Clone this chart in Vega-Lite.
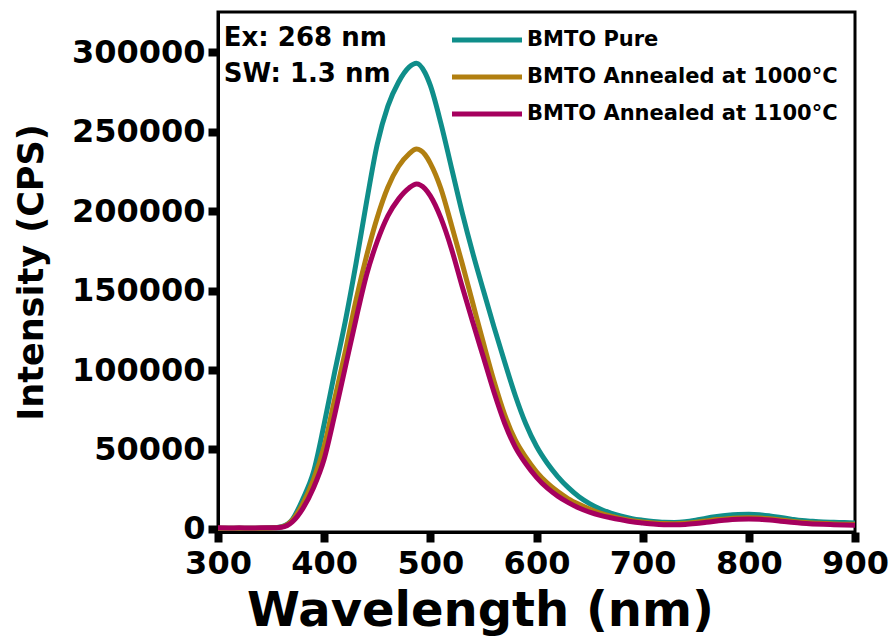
{
  "$schema": "https://vega.github.io/schema/vega-lite/v6.json",
  "width": 637,
  "height": 520,
  "autosize": {"type": "none"},
  "padding": {"left": 218, "top": 12, "right": 39, "bottom": 109},
  "background": "white",
  "config": {
    "font": "DejaVu Sans",
    "view": {"stroke": "black", "strokeWidth": 3},
    "axis": {
      "grid": false,
      "ticks": true,
      "labelColor": "black",
      "titleColor": "black",
      "labelFont": "DejaVu Sans",
      "titleFont": "DejaVu Sans",
      "labelFontWeight": "bold",
      "titleFontWeight": "bold",
      "tickColor": "black",
      "tickOpacity": 1,
      "domainColor": "black",
      "domainWidth": 3,
      "tickWidth": 8,
      "tickSize": 10,
      "labelFlush": false
    }
  },
  "data": {
    "values": [
      {"wl": 300, "pure": 400, "a1000": 500, "a1100": 700},
      {"wl": 310, "pure": 500, "a1000": 400, "a1100": 600},
      {"wl": 320, "pure": 400, "a1000": 500, "a1100": 700},
      {"wl": 330, "pure": 500, "a1000": 500, "a1100": 600},
      {"wl": 340, "pure": 500, "a1000": 500, "a1100": 700},
      {"wl": 350, "pure": 700, "a1000": 600, "a1100": 700},
      {"wl": 360, "pure": 1500, "a1000": 1300, "a1100": 1100},
      {"wl": 370, "pure": 6000, "a1000": 5500, "a1100": 4500},
      {"wl": 380, "pure": 19000, "a1000": 16000, "a1100": 13000},
      {"wl": 390, "pure": 36000, "a1000": 31000, "a1100": 26000},
      {"wl": 400, "pure": 66000, "a1000": 52000, "a1100": 44000},
      {"wl": 410, "pure": 99000, "a1000": 82000, "a1100": 72000},
      {"wl": 420, "pure": 131000, "a1000": 112000, "a1100": 102000},
      {"wl": 430, "pure": 167000, "a1000": 144000, "a1100": 132000},
      {"wl": 440, "pure": 206000, "a1000": 172000, "a1100": 160000},
      {"wl": 450, "pure": 242000, "a1000": 196000, "a1100": 181000},
      {"wl": 460, "pure": 266000, "a1000": 215000, "a1100": 197000},
      {"wl": 470, "pure": 281000, "a1000": 228000, "a1100": 207500},
      {"wl": 480, "pure": 290500, "a1000": 236000, "a1100": 214500},
      {"wl": 487, "pure": 293000, "a1000": 239000, "a1100": 217000},
      {"wl": 495, "pure": 287000, "a1000": 235500, "a1100": 214000},
      {"wl": 500, "pure": 279000, "a1000": 230000, "a1100": 209500},
      {"wl": 510, "pure": 255000, "a1000": 214000, "a1100": 195500},
      {"wl": 520, "pure": 227000, "a1000": 191000, "a1100": 176000},
      {"wl": 530, "pure": 199000, "a1000": 167000, "a1100": 152500},
      {"wl": 540, "pure": 173500, "a1000": 142000, "a1100": 130000},
      {"wl": 550, "pure": 150000, "a1000": 117000, "a1100": 108000},
      {"wl": 560, "pure": 127000, "a1000": 93000, "a1100": 86000},
      {"wl": 570, "pure": 105000, "a1000": 72000, "a1100": 66500},
      {"wl": 580, "pure": 84000, "a1000": 56000, "a1100": 51500},
      {"wl": 590, "pure": 66000, "a1000": 45000, "a1100": 41000},
      {"wl": 600, "pure": 52000, "a1000": 36000, "a1100": 32500},
      {"wl": 610, "pure": 41500, "a1000": 29000, "a1100": 25800},
      {"wl": 620, "pure": 33000, "a1000": 23500, "a1100": 20700},
      {"wl": 630, "pure": 26000, "a1000": 19000, "a1100": 16600},
      {"wl": 640, "pure": 20300, "a1000": 15500, "a1100": 13200},
      {"wl": 650, "pure": 16000, "a1000": 12500, "a1100": 10600},
      {"wl": 660, "pure": 12600, "a1000": 10000, "a1100": 8600},
      {"wl": 670, "pure": 10000, "a1000": 8000, "a1100": 7100},
      {"wl": 680, "pure": 8000, "a1000": 6400, "a1100": 5800},
      {"wl": 690, "pure": 6500, "a1000": 5200, "a1100": 4600},
      {"wl": 700, "pure": 5500, "a1000": 4400, "a1100": 3800},
      {"wl": 710, "pure": 4700, "a1000": 3800, "a1100": 3100},
      {"wl": 720, "pure": 4200, "a1000": 3400, "a1100": 2700},
      {"wl": 730, "pure": 4100, "a1000": 3300, "a1100": 2600},
      {"wl": 740, "pure": 4500, "a1000": 3600, "a1100": 2800},
      {"wl": 750, "pure": 5500, "a1000": 4300, "a1100": 3400},
      {"wl": 760, "pure": 6800, "a1000": 5100, "a1100": 4200},
      {"wl": 770, "pure": 7800, "a1000": 5900, "a1100": 5000},
      {"wl": 780, "pure": 8600, "a1000": 6500, "a1100": 5700},
      {"wl": 790, "pure": 9100, "a1000": 6900, "a1100": 6100},
      {"wl": 800, "pure": 9300, "a1000": 7100, "a1100": 6300},
      {"wl": 810, "pure": 9000, "a1000": 6900, "a1100": 6100},
      {"wl": 820, "pure": 8200, "a1000": 6400, "a1100": 5600},
      {"wl": 830, "pure": 7200, "a1000": 5700, "a1100": 4900},
      {"wl": 840, "pure": 6200, "a1000": 4900, "a1100": 4200},
      {"wl": 850, "pure": 5300, "a1000": 4300, "a1100": 3600},
      {"wl": 860, "pure": 4800, "a1000": 3800, "a1100": 3200},
      {"wl": 870, "pure": 4400, "a1000": 3500, "a1100": 2900},
      {"wl": 880, "pure": 4200, "a1000": 3200, "a1100": 2700},
      {"wl": 890, "pure": 4000, "a1000": 3000, "a1100": 2500},
      {"wl": 900, "pure": 3800, "a1000": 2900, "a1100": 2400}
    ]
  },
  "encoding": {
    "x": {
      "field": "wl",
      "type": "quantitative",
      "scale": {"domain": [300, 900], "nice": false},
      "axis": {
        "values": [300, 400, 500, 600, 700, 800, 900],
        "title": "Wavelength (nm)",
        "labelFontSize": 32,
        "titleFontSize": 48,
        "labelPadding": 6,
        "titlePadding": 8,
        "titleX": 262,
        "titleAlign": "center"
      }
    }
  },
  "layer": [
    {
      "mark": {"type": "line", "strokeWidth": 5, "clip": true, "interpolate": "monotone"},
      "encoding": {
        "y": {
          "field": "pure",
          "type": "quantitative",
          "scale": {"domain": [-1900, 325200], "nice": false, "zero": false},
          "axis": {
            "values": [0, 50000, 100000, 150000, 200000, 250000, 300000],
            "format": "d",
            "title": "Intensity (CPS)",
            "labelFontSize": 32,
            "titleFontSize": 35,
            "labelPadding": 3,
            "titlePadding": 22
          }
        },
        "color": {
          "datum": "BMTO Pure",
          "scale": {
            "domain": ["BMTO Pure", "BMTO Annealed at 1000°C", "BMTO Annealed at 1100°C"],
            "range": ["#0f8e8a", "#b17f10", "#a6005e"]
          },
          "legend": {
            "title": null,
            "orient": "none",
            "legendX": 249,
            "legendY": 8,
            "symbolType": "M-2,0H2",
            "symbolStrokeWidth": 5,
            "symbolSize": 1225,
            "labelFont": "DejaVu Sans",
            "labelFontSize": 21,
            "labelFontWeight": "bold",
            "labelColor": "black",
            "labelOffset": 20,
            "labelLimit": 400,
            "rowPadding": 7
          }
        }
      }
    },
    {
      "mark": {"type": "line", "strokeWidth": 5, "clip": true, "interpolate": "monotone"},
      "encoding": {
        "y": {"field": "a1000", "type": "quantitative"},
        "color": {"datum": "BMTO Annealed at 1000°C"}
      }
    },
    {
      "mark": {"type": "line", "strokeWidth": 5, "clip": true, "interpolate": "monotone"},
      "encoding": {
        "y": {"field": "a1100", "type": "quantitative"},
        "color": {"datum": "BMTO Annealed at 1100°C"}
      }
    },
    {
      "transform": [{"filter": "datum.wl == 300"}],
      "mark": {"type": "text", "align": "left", "baseline": "middle", "fontSize": 26, "fontWeight": "bold", "font": "DejaVu Sans", "color": "black"},
      "encoding": {
        "x": {"datum": 305.5},
        "y": {"datum": 308800},
        "text": {"value": "Ex: 268 nm"}
      }
    },
    {
      "transform": [{"filter": "datum.wl == 300"}],
      "mark": {"type": "text", "align": "left", "baseline": "middle", "fontSize": 26, "fontWeight": "bold", "font": "DejaVu Sans", "color": "black"},
      "encoding": {
        "x": {"datum": 305.5},
        "y": {"datum": 286200},
        "text": {"value": "SW: 1.3 nm"}
      }
    }
  ]
}
